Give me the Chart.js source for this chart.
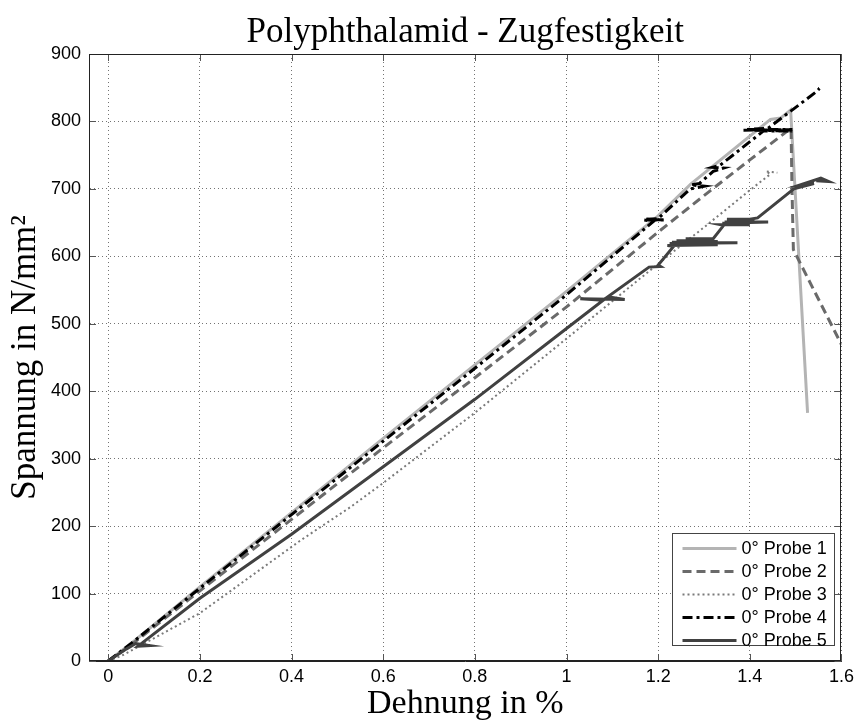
<!DOCTYPE html>
<html>
<head>
<meta charset="utf-8">
<title>Polyphthalamid - Zugfestigkeit</title>
<script src="https://cdn.jsdelivr.net/npm/chart.js@4.4.1/dist/chart.umd.min.js"></script>
<style>
  html, body { margin: 0; padding: 0; background: #fff; }
  #wrap { width: 859px; height: 724px; }
</style>
</head>
<body>
<div id="wrap"><canvas id="chart"></canvas></div>
<script>
// tick positions
const X_TICKS = [0, 0.2, 0.4, 0.6, 0.8, 1, 1.2, 1.4, 1.6];
const Y_TICKS = [0, 100, 200, 300, 400, 500, 600, 700, 800, 900];

const LABELS = ['0° Probe 1', '0° Probe 2', '0° Probe 3', '0° Probe 4', '0° Probe 5'];

// [Dehnung %, Spannung N/mm²]
const probe1 = [[0, 0], [0.05, 26], [0.2, 110], [0.4, 220], [0.6, 330], [0.8, 439], [1.0, 548],
  [1.2, 660], [1.271, 707], [1.445, 803], [1.467, 805], [1.489, 817], [1.526, 368]];

const probe2 = [[0, 0], [0.05, 24], [0.2, 104], [0.4, 210], [0.6, 316], [0.8, 420], [1.0, 525],
  [1.2, 636], [1.3, 690], [1.4, 743], [1.49, 790], [1.492, 700], [1.495, 610], [1.6, 469]];

const probe3 = [[0, 0], [0.03, 8], [0.076, 25], [0.2, 71], [0.31, 125], [0.42, 179], [0.528, 228],
  [0.6, 264], [0.8, 368], [1.0, 478], [1.2, 589], [1.3, 643], [1.4, 698], [1.445, 722],
  [1.435, 726], [1.46, 724]];

const probe4 = [[0, 0], [0.05, 26], [0.2, 108], [0.4, 217], [0.6, 326], [0.8, 434], [1.0, 543],
  [1.19, 652], [1.168, 654], [1.216, 654], [1.17, 655], [1.2, 656], [1.27, 700], [1.30, 704],
  [1.271, 706], [1.29, 708], [1.32, 726], [1.343, 731], [1.319, 732], [1.335, 735], [1.43, 786],
  [1.493, 786], [1.386, 787], [1.493, 788], [1.39, 788], [1.44, 790], [1.545, 844], [1.552, 849],
  [1.547, 846]];

const probe5 = [[0, 0], [0.04, 18], [0.06, 26], [0.09, 23], [0.065, 22], [0.2, 93], [0.4, 188],
  [0.6, 288], [0.8, 388], [1.0, 493], [1.08, 535], [1.03, 537], [1.127, 536], [1.09, 540],
  [1.18, 584], [1.205, 585], [1.2, 587], [1.234, 615], [1.22, 616], [1.33, 617], [1.225, 619],
  [1.373, 620], [1.23, 621], [1.33, 622], [1.24, 623], [1.32, 624], [1.26, 626], [1.32, 626],
  [1.343, 646], [1.336, 647], [1.40, 647], [1.34, 649], [1.44, 651], [1.345, 651], [1.41, 653],
  [1.35, 655], [1.40, 655], [1.417, 657], [1.496, 700], [1.54, 708], [1.51, 706], [1.555, 716],
  [1.572, 711], [1.545, 712]];

const SERIES = [probe1, probe2, probe3, probe4, probe5];
const COLORS = ['#b4b4b4', '#6a6a6a', '#7a7a7a', '#000000', '#414141'];
const WIDTHS = [3, 3, 2, 3, 3];
const DASHES = [[], [9, 5], [2, 3], [10, 4, 3, 4], []];

const SERIF = "'Liberation Serif', 'DejaVu Serif', serif";
const SANS = "'Liberation Sans', Arial, sans-serif";

const datasets = SERIES.map((pts, i) => ({
  label: LABELS[i],
  data: pts.map(p => ({ x: p[0], y: p[1] })),
  showLine: true,
  borderColor: COLORS[i],
  backgroundColor: COLORS[i],
  borderWidth: WIDTHS[i],
  borderDash: DASHES[i],
  pointRadius: 0,
  tension: 0,
  order: SERIES.length - i
}));

// box around the axes with inward ticks, plus the legend inside the plot
const boxAndLegend = {
  id: 'boxAndLegend',
  afterDraw(chart) {
    const ctx = chart.ctx;
    const a = chart.chartArea;
    const xs = chart.scales.x, ys = chart.scales.y;
    ctx.save();
    ctx.strokeStyle = '#555';
    ctx.lineWidth = 1;
    ctx.beginPath();
    X_TICKS.forEach(v => {
      const px = Math.round(xs.getPixelForValue(v)) + 0.5;
      ctx.moveTo(px, a.bottom); ctx.lineTo(px, a.bottom - 7);
      ctx.moveTo(px, a.top); ctx.lineTo(px, a.top + 7);
    });
    Y_TICKS.forEach(v => {
      const py = Math.round(ys.getPixelForValue(v)) + 0.5;
      ctx.moveTo(a.left, py); ctx.lineTo(a.left + 7, py);
      ctx.moveTo(a.right, py); ctx.lineTo(a.right - 7, py);
    });
    ctx.stroke();
    ctx.strokeStyle = '#222';
    ctx.strokeRect(Math.round(a.left) + 0.5, Math.round(a.top) + 0.5,
      Math.round(a.right - a.left) - 1, Math.round(a.bottom - a.top) - 1);

    // legend
    const w = 162, h = 112;
    const lx = Math.round(a.right - 7 - w) + 0.5;
    const ly = Math.round(a.bottom - 16 - h) + 0.5;
    ctx.fillStyle = '#fff';
    ctx.fillRect(lx, ly, w, h);
    ctx.strokeStyle = '#444';
    ctx.strokeRect(lx, ly, w, h);
    ctx.font = '18px ' + SANS;
    ctx.textBaseline = 'middle';
    chart.data.datasets.forEach((ds, i) => {
      const yy = ly + 15 + i * 23;
      ctx.save();
      ctx.strokeStyle = ds.borderColor;
      ctx.lineWidth = ds.borderWidth;
      ctx.setLineDash(ds.borderDash);
      ctx.beginPath();
      ctx.moveTo(lx + 10, yy);
      ctx.lineTo(lx + 64, yy);
      ctx.stroke();
      ctx.restore();
      ctx.fillStyle = '#000';
      ctx.fillText(ds.label, lx + 69, yy + 1);
    });
    ctx.restore();
  }
};

new Chart(document.getElementById('chart'), {
  type: 'scatter',
  data: { datasets },
  plugins: [boxAndLegend],
  options: {
    responsive: true,
    maintainAspectRatio: false,
    animation: false,
    layout: { padding: { left: 0, right: 17, top: 0, bottom: 0 } },
    plugins: {
      legend: { display: false },
      tooltip: { enabled: false },
      title: {
        display: true,
        fullSize: false,
        text: 'Polyphthalamid - Zugfestigkeit',
        color: '#000',
        font: { family: SERIF, size: 35, weight: 'normal' },
        padding: { top: 12, bottom: 0 }
      }
    },
    scales: {
      x: {
        type: 'linear',
        min: -0.042,
        max: 1.6,
        afterBuildTicks: s => { s.ticks = X_TICKS.map(v => ({ value: v })); },
        afterFit: s => { s.height = 63; },
        ticks: {
          color: '#000',
          font: { family: SANS, size: 18 },
          padding: 5,
          maxRotation: 0,
          callback: v => String(v)
        },
        grid: { color: 'rgba(0,0,0,0.55)', lineWidth: 1, drawTicks: false },
        border: { display: true, color: '#222', width: 1, dash: [1, 3] },
        title: {
          display: true,
          text: 'Dehnung in %',
          color: '#000',
          font: { family: SERIF, size: 34, weight: 'normal' },
          padding: { top: 0, bottom: 0 }
        }
      },
      y: {
        type: 'linear',
        min: 0,
        max: 900,
        afterBuildTicks: s => { s.ticks = Y_TICKS.map(v => ({ value: v })); },
        afterFit: s => { s.width = 89; },
        ticks: {
          color: '#000',
          font: { family: SANS, size: 18 },
          padding: 8,
          callback: v => String(v)
        },
        grid: { color: 'rgba(0,0,0,0.55)', lineWidth: 1, drawTicks: false },
        border: { display: true, color: '#222', width: 1, dash: [1, 3] },
        title: {
          display: true,
          text: 'Spannung in N/mm²',
          color: '#000',
          font: { family: SERIF, size: 35, weight: 'normal' },
          padding: { top: 5, bottom: 0 }
        }
      }
    }
  }
});
</script>
</body>
</html>
